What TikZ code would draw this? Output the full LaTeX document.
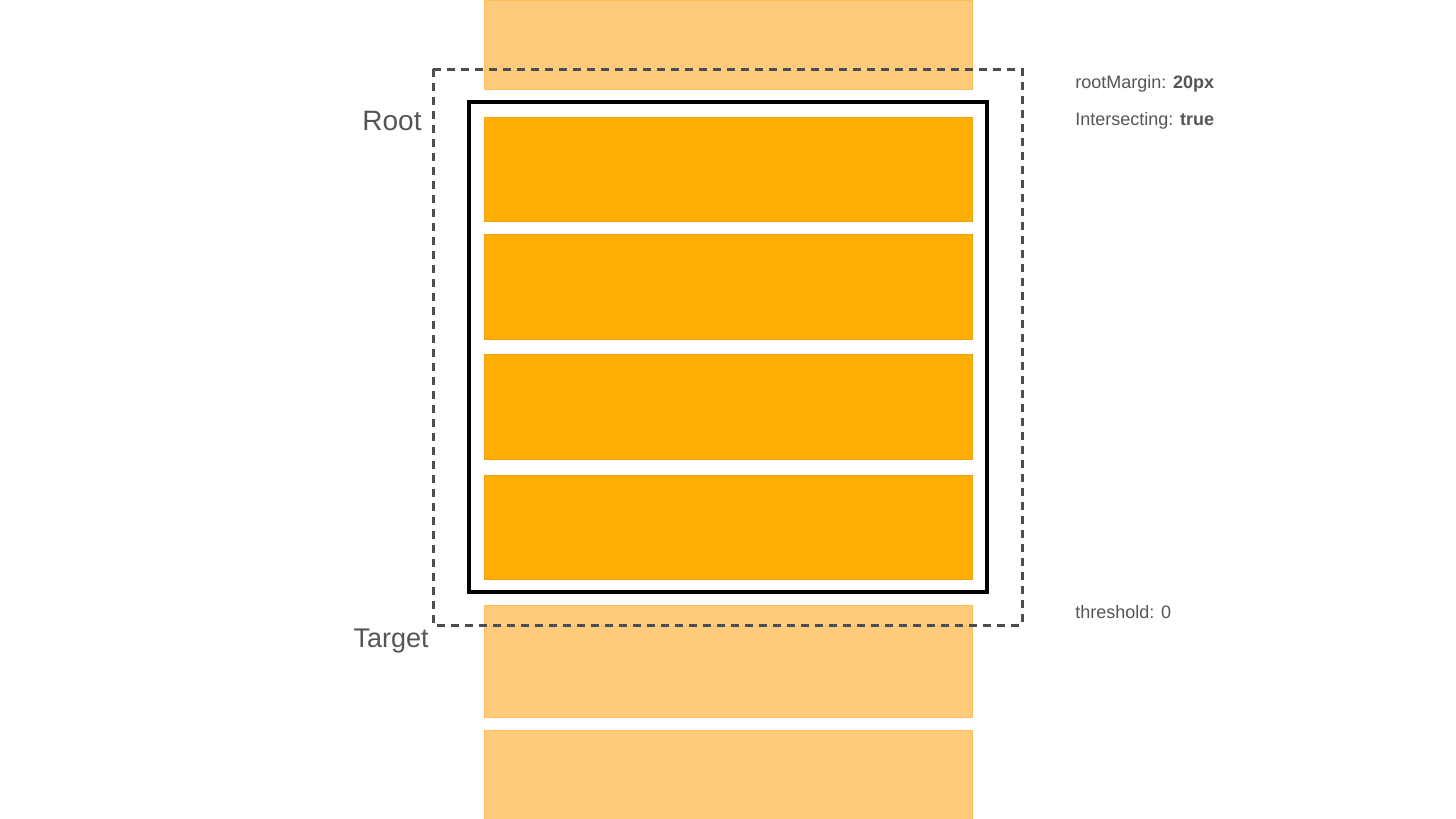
\documentclass[tikz,border=0pt]{standalone}
\usepackage{fontspec}
\setmainfont{Liberation Sans}
\usepackage{tikz}
\definecolor{tbox}{RGB}{252,174,3}
\definecolor{tedge}{RGB}{240,160,20}
\definecolor{fbox}{RGB}{253,203,122}
\definecolor{fedge}{RGB}{253,190,90}
\definecolor{dashgray}{RGB}{74,78,84}
\definecolor{txt}{RGB}{85,85,85}
\begin{document}
\begin{tikzpicture}[x=0.5pt,y=-0.5pt]
\useasboundingbox (0,0) rectangle (1456,819);
\fill[white] (0,0) rectangle (1456,819);
% faded targets outside the root
\filldraw[fbox, draw=fedge, line width=0.4pt] (484,0) rectangle (972,89);
\filldraw[fbox, draw=fedge, line width=0.4pt] (484,605) rectangle (972,717);
\filldraw[fbox, draw=fedge, line width=0.4pt] (484,730) rectangle (972,819);
% targets inside the root
\filldraw[tbox, draw=tedge, line width=0.4pt] (484,117) rectangle (972,221);
\filldraw[tbox, draw=tedge, line width=0.4pt] (484,234) rectangle (972,339);
\filldraw[tbox, draw=tedge, line width=0.4pt] (484,354) rectangle (972,459);
\filldraw[tbox, draw=tedge, line width=0.4pt] (484,475) rectangle (972,579);
% root and its margin
\draw[black, line width=2pt] (469,102) rectangle (987,592);
\draw[dashgray, line width=1.5pt, dash pattern=on 4pt off 3pt] (433,69) rectangle (1022,625);
\node[anchor=east, inner sep=0pt, text=txt, font=\fontsize{14}{16}\selectfont] (root) at (422,121) {Root};
\node[anchor=east, inner sep=0pt, text=txt, font=\fontsize{13.5}{16}\selectfont] (target) at (429,641) {Target};
\node[anchor=west, inner sep=0pt, text=txt, font=\fontsize{9}{10}\selectfont] (margin) at (1075,84) {rootMargin: \textbf{20px}};
\node[anchor=west, inner sep=0pt, text=txt, font=\fontsize{9}{10}\selectfont] (inter) at (1075,121) {Intersecting: \textbf{true}};
\node[anchor=west, inner sep=0pt, text=txt, font=\fontsize{9}{10}\selectfont] (thresh) at (1075,612) {threshold: 0};
\end{tikzpicture}
\end{document}
